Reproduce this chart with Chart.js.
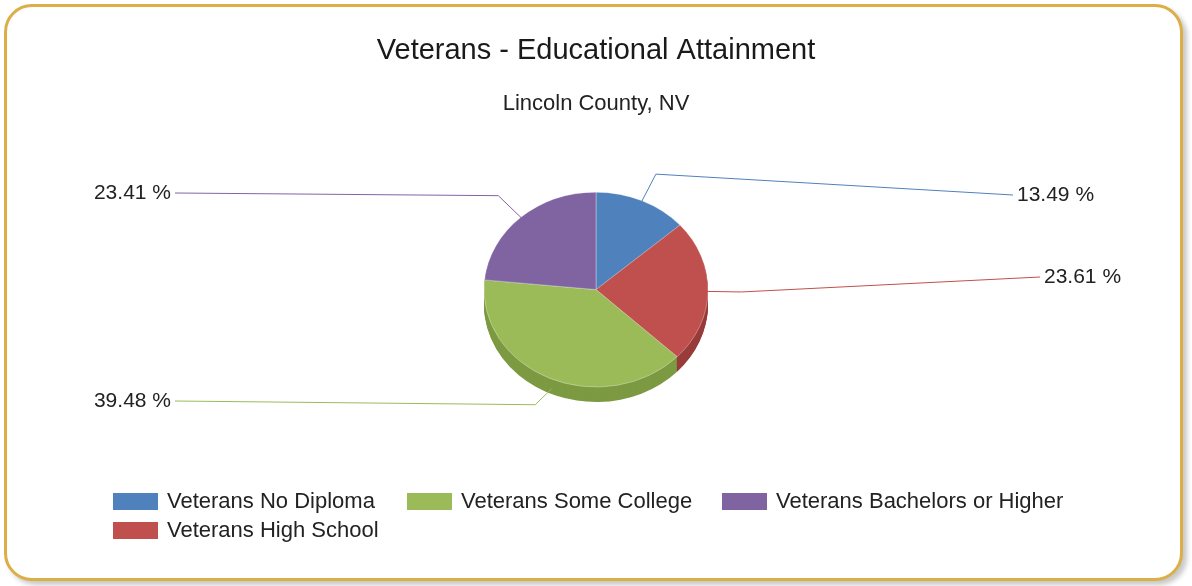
<!DOCTYPE html>
<html>
<head>
<meta charset="utf-8">
<script src="https://cdn.jsdelivr.net/npm/chart.js@4.4.0/dist/chart.umd.min.js"></script>
<style>
  html, body { margin: 0; padding: 0; background: #fff; }
  #frame {
    position: absolute; left: 4px; top: 4px; width: 1173px; height: 571px;
    border: 3px solid #dbae46; border-radius: 28px;
    box-shadow: 4px 4px 5px rgba(0,0,0,0.22); background: #fff;
  }
  canvas { position: absolute; left: 0; top: 0; }
</style>
</head>
<body>
<div id="frame"></div>
<canvas id="edu-chart" width="1192" height="586"></canvas>
<script>
const categories = ['Veterans No Diploma', 'Veterans High School', 'Veterans Some College', 'Veterans Bachelors or Higher'];
const shares = [13.49, 23.61, 39.48, 23.41];
const shareLabels = ['13.49 %', '23.61 %', '39.48 %', '23.41 %'];

const topColors = ['#4f81bd', '#c0504d', '#9bbb59', '#8064a2'];
const sideColors = ['#3d6797', '#983b39', '#7c9a42', '#654f81'];
const FONT = '"Liberation Sans", Arial, sans-serif';
const TILT = 0.87;   // vertical squash of the pie
const DEPTH = 15;    // thickness of the pie edge

// squash the pie into an ellipse and paint its edge underneath
const pie3d = {
  id: 'pie3d',
  beforeDatasetsDraw(chart) {
    const ctx = chart.ctx;
    const arcs = chart.getDatasetMeta(0).data;
    const {x, y, outerRadius} = arcs[0];
    ctx.save();
    ctx.translate(x, y);
    ctx.scale(1, TILT);
    ctx.translate(-x, -y);
    for (let d = DEPTH; d > 0; d--) {
      arcs.forEach((a, i) => {
        ctx.beginPath();
        ctx.moveTo(x, y + d / TILT);
        ctx.arc(x, y + d / TILT, outerRadius, a.startAngle, a.endAngle);
        ctx.closePath();
        ctx.fillStyle = sideColors[i];
        ctx.fill();
      });
    }
  },
  afterDatasetsDraw(chart) {
    chart.ctx.restore();
  }
};

// leader lines + percent labels
const leaderLabels = {
  id: 'leaderLabels',
  afterDraw(chart, args, opts) {
    const ctx = chart.ctx;
    const arcs = chart.getDatasetMeta(0).data;
    ctx.save();
    ctx.font = '21px ' + FONT;
    ctx.textBaseline = 'middle';
    arcs.forEach((a, i) => {
      const mid = (a.startAngle + a.endAngle) / 2;
      const cos = Math.cos(mid), sin = Math.sin(mid);
      const r = a.outerRadius;
      const front = sin > 0.3 ? DEPTH : 0;
      const sx = a.x + cos * r * 0.95, sy = a.y + sin * r * 0.95 * TILT + front;
      const ex = a.x + cos * r * 1.3, ey = a.y + sin * r * 1.3 * TILT;
      const end = opts.anchors[i];
      ctx.strokeStyle = topColors[i];
      ctx.lineWidth = 1;
      ctx.beginPath();
      ctx.moveTo(sx, sy);
      ctx.lineTo(ex, ey);
      ctx.lineTo(end.x, end.y);
      ctx.stroke();
      ctx.fillStyle = '#222';
      const right = end.x > a.x;
      ctx.textAlign = right ? 'left' : 'right';
      ctx.fillText(shareLabels[i], end.x + (right ? 4 : -4), end.y);
    });
    ctx.restore();
  }
};

// legend in a small table: [column, row] for each item
const gridLegend = {
  id: 'gridLegend',
  afterDraw(chart, args, opts) {
    const ctx = chart.ctx;
    ctx.save();
    ctx.font = '22px ' + FONT;
    ctx.textBaseline = 'middle';
    ctx.textAlign = 'left';
    categories.forEach((name, i) => {
      const [col, row] = opts.slots[i];
      const bx = opts.cols[col], cy = opts.top + row * opts.rowGap;
      ctx.fillStyle = topColors[i];
      ctx.fillRect(bx, cy - 8, 45, 17);
      ctx.fillStyle = '#222';
      ctx.fillText(name, bx + 54, cy + 1);
    });
    ctx.restore();
  }
};

new Chart(document.getElementById('edu-chart').getContext('2d'), {
  type: 'pie',
  data: {
    labels: categories,
    datasets: [{
      data: shares,
      backgroundColor: topColors,
      borderColor: 'rgba(255,255,255,0.35)',
      borderWidth: 1,
      radius: 112
    }]
  },
  options: {
    responsive: false,
    animation: false,
    events: [],
    layout: { padding: { top: 0, bottom: 188 } },
    plugins: {
      legend: { display: false },
      tooltip: { enabled: false },
      title: {
        display: true,
        text: 'Veterans - Educational Attainment',
        color: '#1a1a1a',
        font: { family: FONT, size: 29, weight: 'normal' },
        padding: { top: 34, bottom: 0 }
      },
      subtitle: {
        display: true,
        text: 'Lincoln County, NV',
        color: '#222',
        font: { family: FONT, size: 22, weight: 'normal' },
        padding: { top: 22, bottom: 64 }
      },
      leaderLabels: {
        anchors: [{x: 1013, y: 195}, {x: 1040, y: 277}, {x: 175, y: 401}, {x: 175, y: 193}]
      },
      gridLegend: {
        cols: [113, 407, 722], top: 501, rowGap: 29,
        slots: [[0, 0], [0, 1], [1, 0], [2, 0]]
      }
    }
  },
  plugins: [pie3d, leaderLabels, gridLegend]
});
</script>
</body>
</html>
